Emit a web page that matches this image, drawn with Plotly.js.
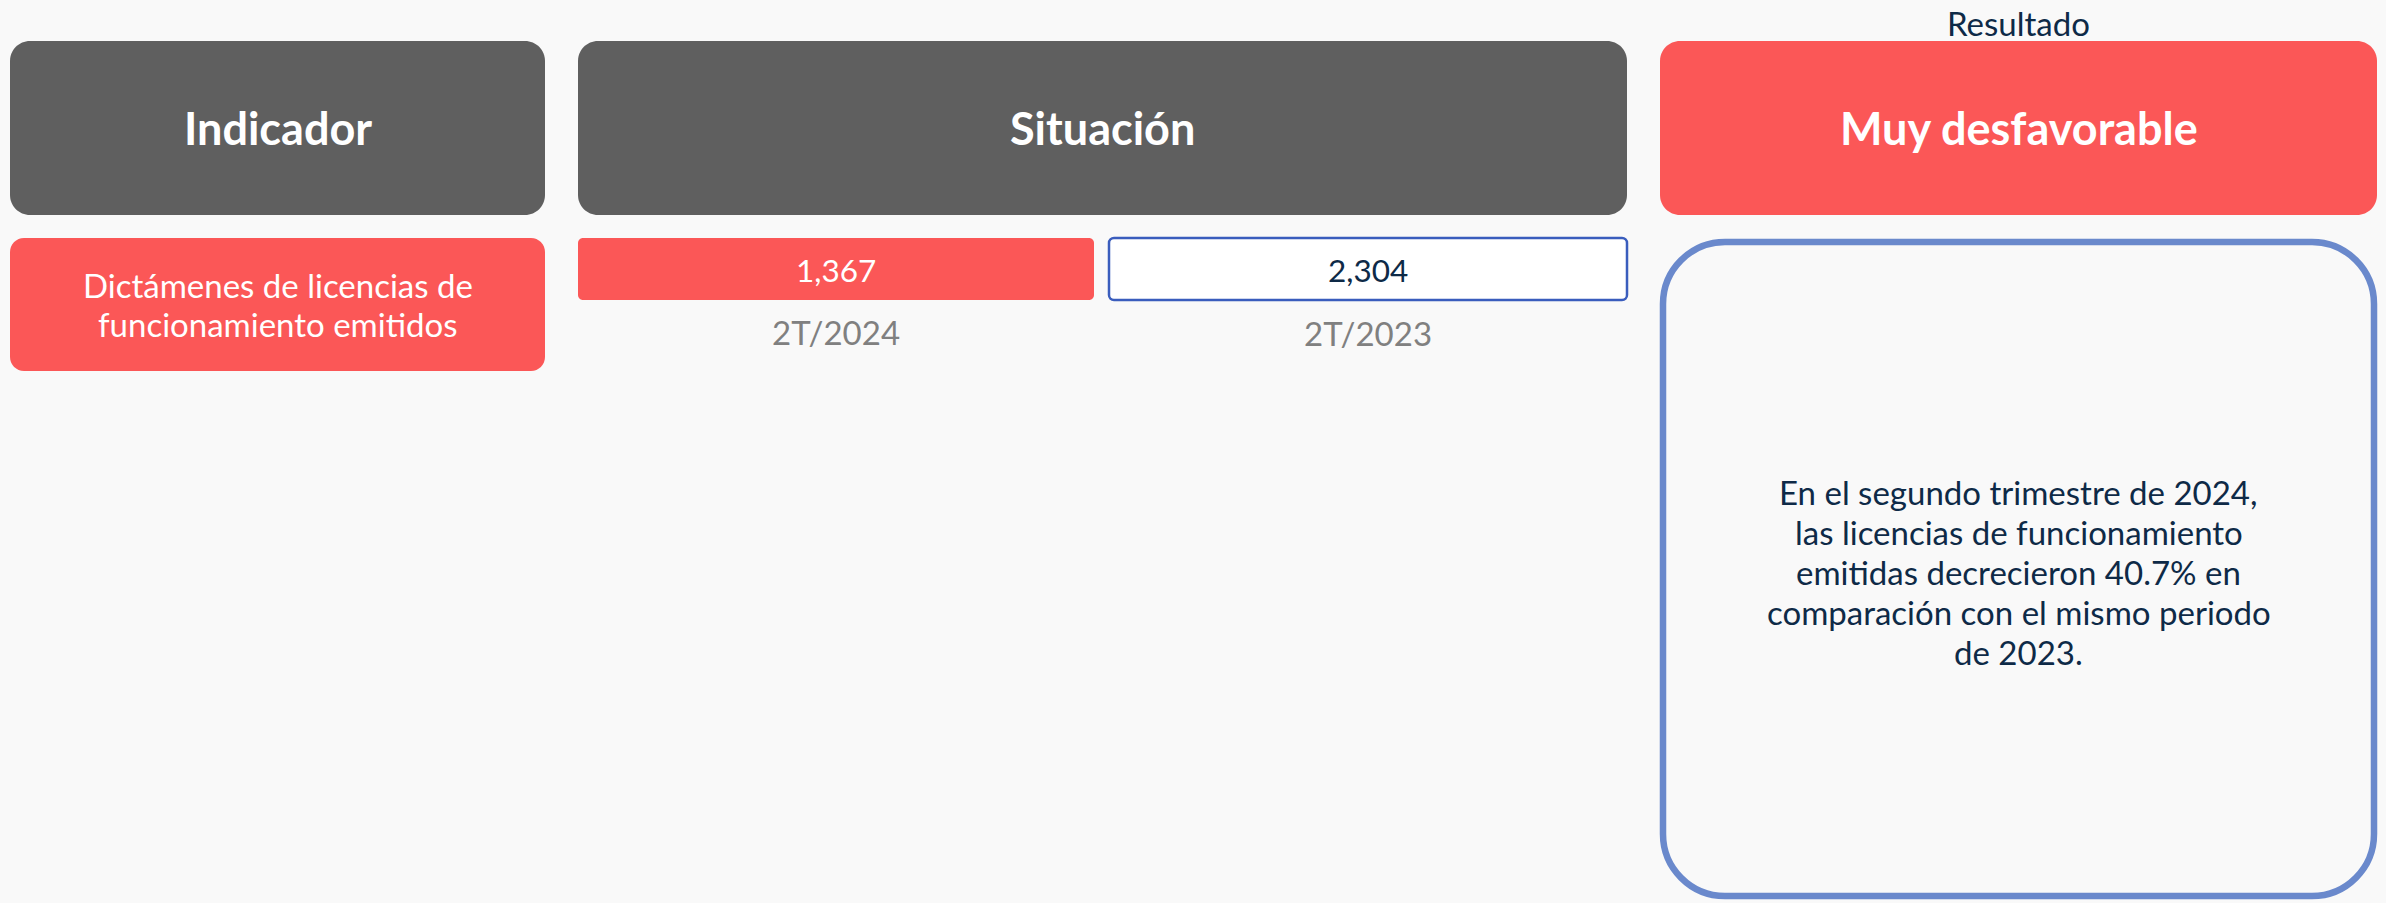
<!DOCTYPE html>
<html>
<head>
<meta charset="utf-8">
<script src="https://cdn.plot.ly/plotly-3.0.1.min.js"></script>
<style>
  html, body { margin: 0; padding: 0; background: #f9f9f9; }
  #chart { width: 2386px; height: 903px; }
</style>
</head>
<body>
<div id="chart"></div>
<script>
// ---- Data ----
const headers = ['Indicador', 'Situación', 'Muy desfavorable'];
const resultLabel = 'Resultado';
const indicatorName = ['Dictámenes de licencias de', 'funcionamiento emitidos'];
const periods = ['2T/2024', '2T/2023'];
const values = [1367, 2304];
const summaryLines = [
  'En el segundo trimestre de 2024,',
  'las licencias de funcionamiento',
  'emitidas decrecieron 40.7% en',
  'comparación con el mismo periodo',
  'de 2023.'
];

// ---- Layout helpers ----
const W = 2386, H = 903;
const FONT = 'Lato, "Noto Sans", sans-serif';
const RED = '#fb5757', GRAY = '#5f5f5f', NAVY = '#0e2a47', BG = '#f9f9f9';

function rr(x0, y0, x1, y1, r) {
  const k = 0.5523 * r;
  return `M${x0 + r},${y0} L${x1 - r},${y0} ` +
    `C${x1 - r + k},${y0} ${x1},${y0 + r - k} ${x1},${y0 + r} ` +
    `L${x1},${y1 - r} C${x1},${y1 - r + k} ${x1 - r + k},${y1} ${x1 - r},${y1} ` +
    `L${x0 + r},${y1} C${x0 + r - k},${y1} ${x0},${y1 - r + k} ${x0},${y1 - r} ` +
    `L${x0},${y0 + r} C${x0},${y0 + r - k} ${x0 + r - k},${y0} ${x0 + r},${y0} Z`;
}
function box(x0, y0, x1, y1, r, fill, line, lw) {
  return {type: 'path', xref: 'x', yref: 'y', path: rr(x0, y0, x1, y1, r),
    fillcolor: fill, line: {color: line || fill, width: lw || 0}, layer: 'below'};
}
function txt(x, y, text, size, color, bold) {
  return {xref: 'x', yref: 'y', x: x, y: y, text: text, showarrow: false,
    xanchor: 'center', yanchor: 'middle', align: 'center',
    font: {family: FONT, size: size, color: color, weight: bold ? 700 : 400}};
}

// columns
const colInd = [10, 545], colSit = [578, 1627], colRes = [1660, 2377];
const cellA = [578, 1094], cellB = [1109, 1627];
const headY = [41, 215], rowY = [238, 371], valY = [238, 300];

const shapes = [
  box(colInd[0], headY[0], colInd[1], headY[1], 20, GRAY),
  box(colSit[0], headY[0], colSit[1], headY[1], 20, GRAY),
  box(colRes[0], headY[0], colRes[1], headY[1], 20, RED),
  box(colInd[0], rowY[0], colInd[1], rowY[1], 14, RED),
  box(cellA[0], valY[0], cellA[1], valY[1], 5, RED),
  box(cellB[0], valY[0], cellB[1], valY[1], 5, '#ffffff', '#3a5dbd', 2.5),
  box(colRes[0] + 3, 242, colRes[1] - 3, 896, 62, BG, '#6a89cc', 6.5)
];

const cx = a => (a[0] + a[1]) / 2;
const fmt = v => v.toLocaleString('en-US');

const annotations = [
  txt(cx(colRes), 23, resultLabel, 33, NAVY, false),
  txt(cx(colInd), cx(headY), headers[0], 45, '#ffffff', true),
  txt(cx(colSit), cx(headY), headers[1], 45, '#ffffff', true),
  txt(cx(colRes), cx(headY), headers[2], 45, '#ffffff', true),
  txt(cx(cellA), 270, fmt(values[0]), 31.5, '#ffffff', false),
  txt(cx(cellB), 270, fmt(values[1]), 31.5, NAVY, false),
  txt(cx(cellA), 332, periods[0], 33, '#808080', false),
  txt(cx(cellB), 333, periods[1], 33, '#808080', false)
];
indicatorName.forEach((line, i) => {
  annotations.push(txt(cx(colInd), 285 + i * 39, line, 33, '#ffffff', false));
});
summaryLines.forEach((line, i) => {
  annotations.push(txt(cx(colRes), 492 + i * 40, line, 33, NAVY, false));
});

const layout = {
  width: W, height: H,
  margin: {l: 0, r: 0, t: 0, b: 0, pad: 0},
  paper_bgcolor: BG, plot_bgcolor: BG,
  xaxis: {range: [0, W], visible: false, fixedrange: true},
  yaxis: {range: [H, 0], visible: false, fixedrange: true},
  showlegend: false,
  shapes: shapes,
  annotations: annotations
};

Plotly.newPlot('chart', [], layout, {staticPlot: true, displayModeBar: false});
</script>
</body>
</html>
